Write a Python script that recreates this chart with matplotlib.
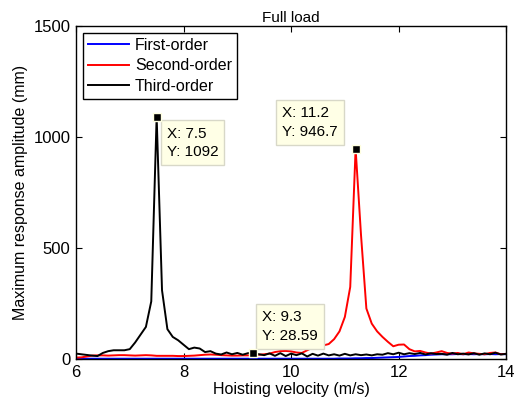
import numpy as np
import matplotlib.pyplot as plt

plt.rcParams['font.family'] = ['Liberation Sans', 'DejaVu Sans']
plt.rcParams['font.size'] = 11

# Hoisting velocity sweep (m/s)
v = np.round(np.arange(6.0, 14.01, 0.1), 1)

# Maximum response amplitude (mm) of each mode
first_order = [2, 2, 2, 2, 2, 2, 2, 2, 2, 2,
               2, 2, 2, 2, 2, 2, 2, 2, 2, 2,
               2, 2, 2, 2, 2, 2, 2, 2, 2, 2,
               2, 2, 2, 2, 2, 2, 2, 2, 2, 2,
               2, 2, 2, 2, 2, 2, 2, 2, 2, 3,
               3, 3, 4, 4, 5, 5, 6, 7, 8, 9,
               10, 12, 14, 15, 17, 18, 20, 21, 22, 22,
               22, 23, 22, 23, 22, 23, 22, 23, 22, 23, 22]
second_order = [7, 8, 12, 16, 17, 17, 16, 17, 18, 18,
                17, 16, 17, 18, 17, 15, 15, 15, 15, 14,
                14, 15, 16, 18, 20, 21, 20, 18, 17, 16,
                16, 17, 17, 18, 20, 22, 25, 32, 36, 37,
                35, 30, 28, 40, 52, 58, 62, 68, 90, 125,
                190, 325, 946.7, 560, 228, 160, 125, 100, 78, 58,
                65, 66, 45, 35, 37, 30, 25, 30, 36, 28,
                25, 28, 22, 30, 26, 24, 22, 28, 30, 22, 24]
third_order = [25, 22, 19, 16, 14, 28, 36, 40, 40, 40,
               45, 75, 110, 145, 260, 1092, 310, 135, 100, 85,
               65, 45, 52, 48, 32, 36, 25, 21, 30, 22,
               28, 20, 27, 28.59, 22, 18, 26, 15, 27, 14,
               25, 18, 26, 12, 24, 16, 25, 17, 22, 16,
               24, 17, 22, 18, 21, 17, 22, 20, 27, 22,
               29, 22, 27, 23, 28, 21, 27, 23, 24, 20,
               28, 22, 25, 21, 27, 20, 26, 22, 29, 21, 24]

# Data tips: (x, y, offset of the tip box in pixels, alignment)
tips = [(7.5, 1092, (10, -10), 'left', 'top'),
        (11.2, 946.7, (-18, 10), 'right', 'bottom'),
        (9.3, 28.59, (9, 10), 'left', 'bottom')]

fig = plt.figure(figsize=(5.24, 4.04), dpi=100)
ax = fig.add_axes([0.145, 0.111, 0.821, 0.825])

ax.plot(v, first_order, color='#0000FF', lw=1.4, label='First-order')
ax.plot(v, second_order, color='#FF0000', lw=1.4, label='Second-order')
ax.plot(v, third_order, color='black', lw=1.4, label='Third-order')

for x, y, off, ha, va in tips:
    ax.plot(x, y, 's', color='black', ms=6, mec='#FFFFE1', mew=1, zorder=5, clip_on=False)
    ax.annotate(f'X: {x:g}\nY: {y:g}', xy=(x, y), xytext=off, textcoords='offset pixels',
                ha=ha, va=va, multialignment='left', fontsize=11, linespacing=1.4,
                bbox=dict(boxstyle='square,pad=0.4', fc='#FFFFE6', ec='#D8D8C8', lw=1))

ax.set_xlim(6, 14)
ax.set_ylim(0, 1500)
ax.set_xticks([6, 8, 10, 12, 14])
ax.set_yticks([0, 500, 1000, 1500])
ax.tick_params(direction='in', top=True, right=True, length=4, labelsize=12, pad=4)
for s in ax.spines.values():
    s.set_linewidth(1)

ax.set_xlabel('Hoisting velocity (m/s)', fontsize=11.5, labelpad=2)
ax.set_ylabel('Maximum response amplitude (mm)', fontsize=11.5, labelpad=4)
ax.set_title('Full load', fontsize=11, pad=3)

leg = ax.legend(loc='upper left', bbox_to_anchor=(0.016, 0.979), fancybox=False,
                edgecolor='black', framealpha=1, fontsize=11.5, handlelength=2.6,
                borderpad=0.3, labelspacing=0.35, handletextpad=0.35, borderaxespad=0)
leg.get_frame().set_linewidth(1)

fig.savefig('out.png', dpi=100)
